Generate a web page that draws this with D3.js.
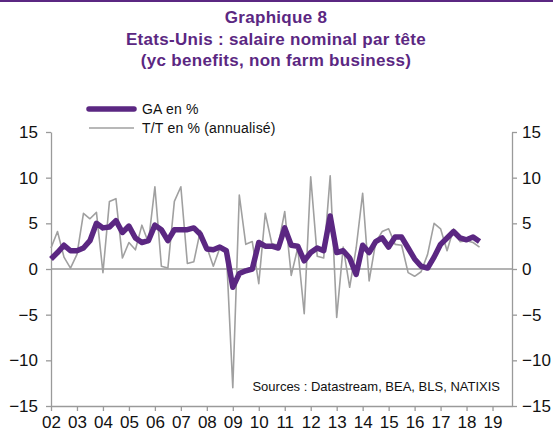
<!DOCTYPE html>
<html>
<head>
<meta charset="utf-8">
<script src="https://cdn.jsdelivr.net/npm/d3@7"></script>
<style>
  body { margin: 0; background: #fff; }
  svg { font-family: "Liberation Sans", Arial, sans-serif; }
</style>
</head>
<body>
<svg id="chart" width="553" height="434"></svg>
<script>
// quarterly data, 2002Q1 .. 2018Q3
const startYear = 2002;
const gaValues = [
  1.1, 1.8, 2.6, 2.0,
  2.0, 2.3, 3.1, 5.0,
  4.5, 4.6, 5.3, 4.0,
  4.7, 3.4, 2.9, 3.1,
  4.8, 4.3, 3.1, 4.3,
  4.3, 4.3, 4.5, 3.8,
  2.2, 2.1, 2.4, 2.0,
  -2.0, -0.5, -0.2, 0.0,
  2.9, 2.5, 2.5, 2.3,
  4.5, 2.6, 2.5, 0.9,
  1.8, 2.3, 2.0, 5.8,
  1.8, 2.0, 1.2, -0.6,
  2.6, 1.8, 3.0, 3.4,
  2.4, 3.5, 3.5, 2.3,
  1.1, 0.3, 0.1, 1.3,
  2.7, 3.4, 4.1, 3.4,
  3.2, 3.5, 3.0
];
const ttValues = [
  2.3, 4.1, 1.3, 0.1,
  1.6, 6.1, 5.5, 6.2,
  -0.4, 7.4, 7.7, 1.2,
  2.9, 2.1, 4.8, 2.9,
  9.0, 0.3, 0.1, 7.4,
  9.0, 0.6, 0.8, 4.2,
  2.4, 0.3, 2.3, 2.0,
  -13.0, 8.1, 2.7, 3.0,
  -1.6, 6.1, 2.8, 2.6,
  6.3, -0.7, 2.3, -4.9,
  10.1, 1.4, 1.2, 10.2,
  -5.3, 2.4, -2.0, 2.3,
  8.3, -1.3, 2.9, 4.1,
  4.4, 2.7, 2.6, -0.4,
  -0.8, -0.3, 1.6, 5.0,
  4.4, 2.0, 4.4, 3.0,
  3.1, 2.9, 2.4
];
const yTicks = [-15, -10, -5, 0, 5, 10, 15];
const yearTicks = d3.range(2002, 2020);
const titleLines = ["Graphique 8", "Etats-Unis : salaire nominal par tête", "(yc benefits, non farm business)"];
const legendLabels = ["GA en %", "T/T en % (annualisé)"];
const sourceText = "Sources  : Datastream,  BEA, BLS,  NATIXIS";

const purple = "#5b2782";
const grey = "#a0a0a0";
const axisGrey = "#9a9a9a";

const svg = d3.select("#chart");
const width = +svg.attr("width");

// top rule
svg.append("line")
    .attr("x1", 0).attr("x2", width)
    .attr("y1", 1).attr("y2", 1)
    .attr("stroke", purple).attr("stroke-width", 2);

// title
svg.append("g").selectAll("text")
    .data(titleLines)
    .enter().append("text")
    .attr("x", 276)
    .attr("y", (d, i) => 23 + i * 21.5)
    .attr("text-anchor", "middle")
    .attr("fill", purple)
    .attr("font-weight", "bold")
    .attr("font-size", 17)
    .attr("letter-spacing", 0.3)
    .text(d => d);

const x = d3.scaleLinear().domain([2002, 2019.75]).range([51, 512]);
const y = d3.scaleLinear().domain([-15, 15]).range([406, 132]);

const styleAxis = g => {
    g.select(".domain").attr("stroke", axisGrey).attr("stroke-width", 1.3);
    g.selectAll(".tick line").attr("stroke", axisGrey).attr("stroke-width", 1.3);
    g.selectAll(".tick text").attr("fill", "#111").attr("font-size", 17)
        .attr("font-family", "'Liberation Sans', Arial, sans-serif");
};

svg.append("g")
    .attr("transform", "translate(51,0)")
    .call(d3.axisLeft(y).tickValues(yTicks).tickSize(5).tickSizeOuter(0).tickPadding(8))
    .call(styleAxis);

svg.append("g")
    .attr("transform", "translate(512,0)")
    .call(d3.axisRight(y).tickValues(yTicks).tickSize(5).tickSizeOuter(0).tickPadding(5))
    .call(styleAxis);

svg.append("g")
    .attr("transform", "translate(0,406)")
    .call(d3.axisBottom(x).tickValues(yearTicks).tickSize(5).tickSizeOuter(0).tickPadding(5)
        .tickFormat(d => String(d).slice(2)))
    .call(styleAxis);

// zero line
svg.append("line")
    .attr("x1", x(2002)).attr("x2", x(2019.75))
    .attr("y1", y(0)).attr("y2", y(0))
    .attr("stroke", axisGrey).attr("stroke-width", 1.3);

const qx = (d, i) => x(startYear + i * 0.25);

const line = d3.line().x(qx).y(d => y(d));

svg.append("path")
    .datum(ttValues)
    .attr("d", line)
    .attr("fill", "none")
    .attr("stroke", grey)
    .attr("stroke-width", 1.6)
    .attr("stroke-linejoin", "round");

svg.append("path")
    .datum(gaValues)
    .attr("d", line)
    .attr("fill", "none")
    .attr("stroke", purple)
    .attr("stroke-width", 5.5)
    .attr("stroke-linejoin", "round");

// legend
const legend = svg.append("g");
const legendStyles = [{c: purple, w: 5.5}, {c: grey, w: 1.6}];
legendLabels.forEach((lab, i) => {
    const ly = 109 + i * 19;
    legend.append("line")
        .attr("x1", 89).attr("x2", 134)
        .attr("y1", ly).attr("y2", ly)
        .attr("stroke", legendStyles[i].c)
        .attr("stroke-width", legendStyles[i].w)
        .attr("stroke-linecap", i === 0 ? "round" : "butt");
    legend.append("text")
        .attr("x", 142).attr("y", ly + 5)
        .attr("font-size", 14)
        .attr("letter-spacing", 0.2)
        .attr("fill", "#111")
        .text(lab);
});

svg.append("text")
    .attr("x", 500).attr("y", 391)
    .attr("text-anchor", "end")
    .attr("font-size", 13)
    .attr("fill", "#111")
    .text(sourceText);
</script>
</body>
</html>
